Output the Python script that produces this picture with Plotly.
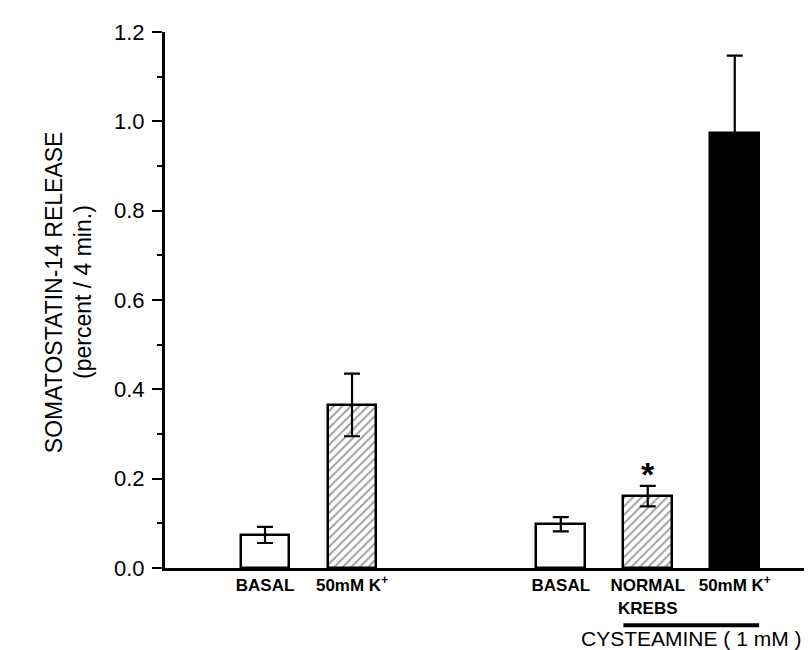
import plotly.graph_objects as go

# ---- data ----
labels = ["BASAL", "50mM K<sup>+</sup>", "BASAL", "NORMAL<br>KREBS", "50mM K<sup>+</sup>"]
positions = [0.0, 1.0, 3.4, 4.4, 5.4]
values = [0.074, 0.365, 0.098, 0.161, 0.975]
errors = [0.018, 0.070, 0.016, 0.023, 0.172]
fill_colors = ["white", "white", "white", "white", "black"]
hatch = ["", "/", "", "/", ""]
y_ticks = [0.0, 0.2, 0.4, 0.6, 0.8, 1.0, 1.2]
y_ticktext = ["0.0", "0.2", "0.4", "0.6", "0.8", "1.0", "1.2"]

BAR_W = 0.56
SANS = "Liberation Sans, Arial, Helvetica, sans-serif"

fig = go.Figure()
fig.add_trace(go.Bar(
    x=positions, y=values, width=BAR_W,
    marker=dict(color=fill_colors,
                line=dict(color="black", width=2.5),
                pattern=dict(shape=hatch, fgcolor="black", size=6, solidity=0.35)),
    error_y=dict(type="data", array=errors, color="black", thickness=2.2, width=8),
    showlegend=False, hoverinfo="skip",
))

# asterisk over NORMAL KREBS
fig.add_annotation(x=positions[3], y=values[3] + errors[3], xref="x", yref="y",
                   text="*", showarrow=False, yanchor="middle", yshift=12,
                   font=dict(family=SANS, size=34, color="black", weight="bold"))

# cysteamine bar + label
x0 = positions[3] - BAR_W / 2
x1 = positions[4] + BAR_W / 2
fig.add_shape(type="line", xref="x", yref="paper", x0=x0, x1=x1, y0=-0.107, y1=-0.107,
              line=dict(color="black", width=4))
fig.add_annotation(x=(x0 + x1) / 2, y=-0.132, xref="x", yref="paper",
                   text="CYSTEAMINE ( 1 mM )", showarrow=False, yanchor="middle",
                   font=dict(family=SANS, size=21, color="black"))

# y-axis title lines
fig.add_annotation(x=-0.192, y=0.515, xref="paper", yref="paper", textangle=-90,
                   text="SOMATOSTATIN-14 RELEASE", showarrow=False,
                   font=dict(family=SANS, size=23, color="black"))
fig.add_annotation(x=-0.148, y=0.515, xref="paper", yref="paper", textangle=-90,
                   text="(percent / 4 min.)", showarrow=False,
                   font=dict(family=SANS, size=23, color="black"))

fig.update_layout(
    width=812, height=650,
    margin=dict(l=157, r=0, t=24, b=90),
    paper_bgcolor="white", plot_bgcolor="white",
    bargap=0,
    xaxis=dict(range=[-1.15, 6.38], tickmode="array", tickvals=positions, ticktext=labels,
               showgrid=False, zeroline=False, showline=True, linecolor="black", linewidth=3,
               ticks="", tickfont=dict(family=SANS, size=17, color="black", weight="bold"),
               fixedrange=True),
    yaxis=dict(range=[0, 1.2], tickmode="array", tickvals=y_ticks, ticktext=y_ticktext,
               showgrid=False, zeroline=False, showline=True, linecolor="black", linewidth=3,
               ticks="outside", ticklen=10, tickwidth=2, tickcolor="black",
               tickfont=dict(family=SANS, size=22, color="black"),
               ticklabelstandoff=3,
               minor=dict(dtick=0.1, ticks="outside", ticklen=5, tickwidth=1.5, tickcolor="black"),
               fixedrange=True),
)

fig.write_html("out.html")
